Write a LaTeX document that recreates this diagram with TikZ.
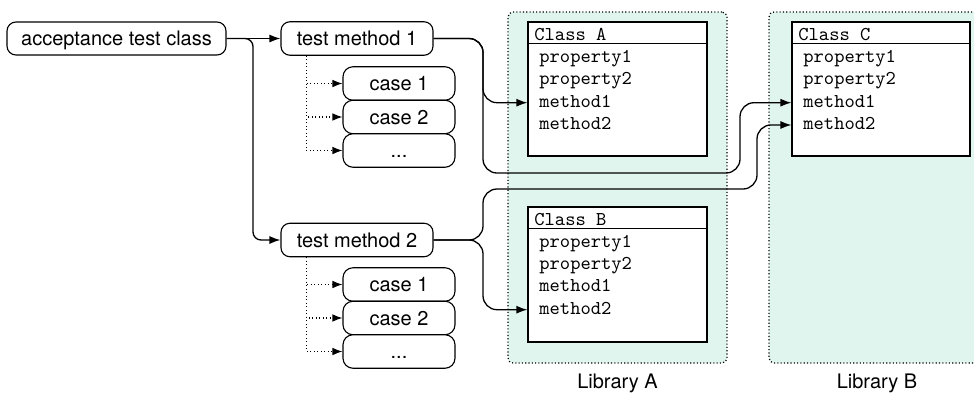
\documentclass[tikz,border=0pt]{standalone}
\usepackage{fontspec}
\setsansfont{TeX Gyre Heros}
\usetikzlibrary{arrows.meta}
\definecolor{libfill}{RGB}{224,245,238}
\begin{document}
\begin{tikzpicture}[x=0.5pt,y=-0.5pt,
  sansf/.style={font=\sffamily\fontsize{10}{12}\selectfont},
  box/.style={sansf,draw,line width=0.55pt,rounded corners=4.5pt,inner sep=0pt,
    text height=7.2pt,text depth=0pt,anchor=center,fill=white},
  tmbox/.style={box,minimum width=76pt,minimum height=16.75pt},
  casebox/.style={box,minimum width=56pt,minimum height=16.75pt,rounded corners=5pt},
  libbox/.style={draw,fill=libfill,line width=0.6pt,dash pattern=on 0.55pt off 1.1pt,
    rounded corners=2.5pt,inner sep=0pt},
  clsbox/.style={draw,fill=white,line width=0.6pt,inner sep=0pt},
  mem/.style={anchor=base west,inner sep=0pt,font=\ttfamily\fontsize{9.8}{11}\selectfont},
  lbl/.style={sansf,anchor=base,inner sep=0pt},
  conn/.style={line width=0.65pt,rounded corners=7pt,-{Latex[length=5.5pt,width=4pt]}},
  dotconn/.style={line width=0.55pt,dash pattern=on 0.55pt off 1.2pt,
    -{Latex[length=5pt,width=3.8pt]}}
]
\clip (0,0) rectangle (974,392);

% libraries
\node[libbox,minimum width=109.5pt,minimum height=175.5pt] (libA) at (617.5,187.5) {};
\node[libbox,minimum width=109pt,minimum height=175.5pt] (libB) at (878,187.5) {};
\node[lbl] (libAl) at (617.5,388) {Library A};
\node[lbl] (libBl) at (877,388) {Library B};

% class boxes
\node[clsbox,minimum width=89.5pt,minimum height=67pt] (classA) at (617.5,89) {};
\draw[line width=0.6pt] ([yshift=-11pt]classA.north west) -- ([yshift=-11pt]classA.north east);
\node[mem] (Ah) at (534,40) {Class A};
\node[mem] (Ap1) at (539,62.4) {property1};
\node[mem] (Ap2) at (539,84.7) {property2};
\node[mem] (Am1) at (539,107) {method1};
\node[mem] (Am2) at (539,129.3) {method2};

\node[clsbox,minimum width=89pt,minimum height=67pt] (classC) at (881,89) {};
\draw[line width=0.6pt] ([yshift=-11pt]classC.north west) -- ([yshift=-11pt]classC.north east);
\node[mem] (Ch) at (798,40) {Class C};
\node[mem] (Cp1) at (803,62.4) {property1};
\node[mem] (Cp2) at (803,84.7) {property2};
\node[mem] (Cm1) at (803,107) {method1};
\node[mem] (Cm2) at (803,129.3) {method2};

\node[clsbox,minimum width=89.5pt,minimum height=67.5pt] (classB) at (617.5,274.5) {};
\draw[line width=0.6pt] ([yshift=-11pt]classB.north west) -- ([yshift=-11pt]classB.north east);
\node[mem] (Bh) at (534,225) {Class B};
\node[mem] (Bp1) at (539,247) {property1};
\node[mem] (Bp2) at (539,269.3) {property2};
\node[mem] (Bm1) at (539,291.6) {method1};
\node[mem] (Bm2) at (539,314) {method2};

% test nodes
\node[box,minimum width=109.5pt,minimum height=16.5pt] (acc) at (116.5,38.5) {acceptance test class};
\node[tmbox] (tm1) at (357,38.5) {test method 1};
\node[tmbox] (tm2) at (357,240) {test method 2};

\node[casebox] (c11) at (399,83.5) {case 1};
\node[casebox] (c12) at (399,117) {case 2};
\node[casebox] (c13) at (399,150.5) {...};
\node[casebox] (c21) at (399,284.5) {case 1};
\node[casebox] (c22) at (399,318) {case 2};
\node[casebox] (c23) at (399,351.5) {...};

% dotted case arrows
\foreach \c in {c11,c12,c13}
  \draw[dotconn] ([xshift=13pt]tm1.south west) |- (\c.west);
\foreach \c in {c21,c22,c23}
  \draw[dotconn] ([xshift=13pt]tm2.south west) |- (\c.west);

% main connectors
\draw[conn] (acc.east) -- (tm1.west);
\draw[conn,rounded corners=4pt] (acc.east) -- (253,38.5) |- (tm2.west);

\draw[conn] (tm1.east) -- (483,38.5) |- (classA.west |- Am1.mid);
\draw[conn] (tm1.east) -- (483,38.5) -- (483,173) -- (740,173) |- (classC.west |- Cm1.mid);
\draw[conn] (tm2.east) -- (483,240) |- (classB.west |- Bm2.mid);
\draw[conn] (tm2.east) -- (483,240) -- (483,189) -- (757,189) |- (classC.west |- Cm2.mid);
\end{tikzpicture}
\end{document}
